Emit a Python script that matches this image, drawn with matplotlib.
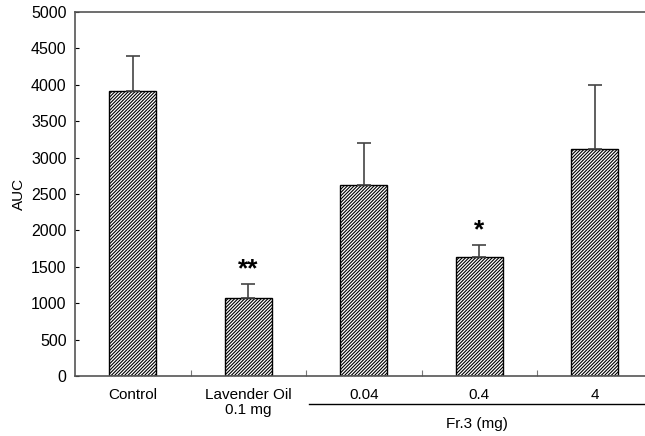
import matplotlib.pyplot as plt
import matplotlib as mpl

plt.rcParams['font.family'] = ['Liberation Sans', 'DejaVu Sans']
mpl.rcParams['hatch.linewidth'] = 0.8

#values
groups = ["Control", "Lavender Oil\n0.1 mg", "0.04", "0.4", "4"]
auc = [3920, 1070, 2625, 1640, 3120]
err = [470, 195, 575, 160, 875]
marks = ["", "**", "", "*", ""]
y_ticks = [0, 500, 1000, 1500, 2000, 2500, 3000, 3500, 4000, 4500, 5000]

fig = plt.figure(figsize=(6.45, 4.36), dpi=100)
ax = fig.add_axes([75/645, 1 - 376/436, 570/645, 364/436])

x = list(range(len(groups)))
ax.bar(x, auc, width=0.41, color="white", edgecolor="black",
       hatch="//////////", linewidth=1.0)
ax.errorbar(x, auc, yerr=[[0]*len(err), err], fmt="none", ecolor="#444444",
            elinewidth=1.2, capsize=5, capthick=1.2)

for i in x:
    if marks[i]:
        ax.text(i, auc[i] + err[i] + 40, marks[i], ha="center", va="bottom",
                fontsize=19, fontweight="bold")

ax.set_xlim(-0.5, 4.435)
ax.set_ylim(0, 5000)
ax.set_yticks(y_ticks)
ax.tick_params(axis="y", direction="in", length=3, labelsize=11.5, pad=6)
ax.set_xticks([0.5, 1.5, 2.5, 3.5])
ax.set_xticklabels([])
ax.tick_params(axis="x", direction="in", length=4, color="#777777")
ax.spines["right"].set_visible(False)
for s in ["left", "bottom", "top"]:
    ax.spines[s].set_color("#555555")
    ax.spines[s].set_linewidth(1.2)

ax.set_ylabel("AUC", fontsize=11, labelpad=4)

for i, g in enumerate(groups):
    ax.text(i, -160, g, ha="center", va="top", fontsize=11,
            linespacing=1.15)

# bracket line for Fr.3 group
ax.plot([1.53, 4.435], [-390, -390], color="black", lw=1.0, clip_on=False)
ax.text(2.98, -560, "Fr.3 (mg)", ha="center", va="top", fontsize=11)

fig.savefig("out.png", dpi=100)
